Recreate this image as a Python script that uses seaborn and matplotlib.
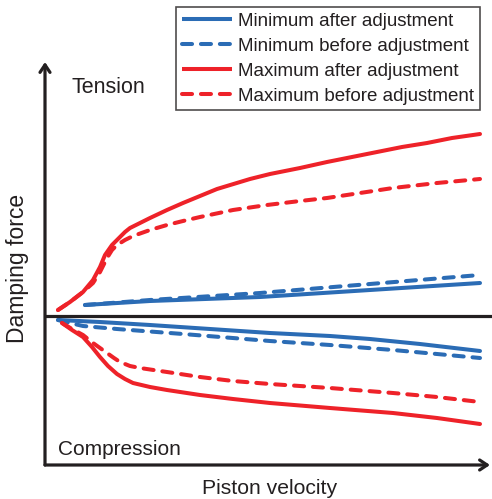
import numpy as np
import pandas as pd
import matplotlib
matplotlib.use("Agg")
import matplotlib.pyplot as plt
from matplotlib.legend_handler import HandlerLine2D
import seaborn as sns

sns.set_theme(style="white")
plt.rcParams['font.family'] = ['Liberation Sans', 'DejaVu Sans']

# ---- data (arbitrary units) ----
series_names = ["Minimum after adjustment", "Minimum before adjustment",
                "Maximum after adjustment", "Maximum before adjustment"]

# tension side
max_after_t_v = [11, 23, 36, 46, 53, 58, 65, 73, 78, 83, 93, 103, 120, 136, 170, 203, 223, 253, 280, 305, 330, 355, 380, 405, 433]
max_after_t_f = [6, 14, 24, 36, 49, 61, 71, 79, 84, 88, 93, 98, 106, 113, 127, 137, 142, 148, 154, 159, 164, 169, 173, 178, 182]
max_before_t_v = [11, 23, 36, 46, 53, 60, 65, 70, 78, 86, 103, 120, 136, 153, 186, 220, 253, 280, 313, 346, 390, 433]
max_before_t_f = [6, 14, 24, 33, 44, 58, 66, 71, 76, 80, 86, 91, 95, 99, 106, 111, 115, 118, 123, 128, 133, 137]
min_after_t_v = [38, 103, 213, 323, 433]
min_after_t_f = [11, 15, 19, 26, 33]
min_before_t_v = [38, 103, 213, 323, 433]
min_before_t_f = [11, 16, 23, 32, 41]

# compression side
min_after_c_v = [11, 53, 103, 163, 223, 283, 323, 373, 433]
min_after_c_f = [-4, -6, -9, -13, -17, -20, -23, -28, -35]
min_before_c_v = [11, 23, 36, 70, 136, 223, 283, 346, 390, 433]
min_before_c_f = [-4, -7, -10, -13, -18, -25, -29, -34, -38, -42]
max_after_c_v = [15, 25, 36, 45, 53, 61, 70, 78, 86, 103, 120, 153, 186, 223, 283, 346, 390, 433]
max_after_c_f = [-7, -14, -21, -31, -41, -50, -58, -63, -67, -71, -74, -79, -83, -87, -92, -97, -102, -108]
max_before_c_v = [15, 25, 36, 46, 53, 60, 67, 73, 83, 93, 120, 153, 186, 223, 283, 346, 390, 433]
max_before_c_f = [-7, -13, -19, -27, -32, -37, -42, -46, -50, -52, -56, -61, -65, -68, -72, -77, -81, -86]

BLUE = "#2b6cb5"
RED = "#ee2229"
INK = "#231f20"

W, H = 492, 499
fig = plt.figure(figsize=(W / 100, H / 100), dpi=100)
# axes region in pixels: x 45..490, y 62..465
ax = fig.add_axes([45 / W, 1 - 465 / H, (490 - 45) / W, (465 - 62) / H])
ax.set_xlim(-2, 443)
ax.set_ylim(-149, 254)
for s in ax.spines.values():
    s.set_visible(False)
ax.set_xticks([])
ax.set_yticks([])
ax.patch.set_alpha(0)

lw = 2.9
dash = (0, (2.5, 2.2))
specs = [
    (min_after_t_v, min_after_t_f, min_after_c_v, min_after_c_f, BLUE, '-'),
    (min_before_t_v, min_before_t_f, min_before_c_v, min_before_c_f, BLUE, dash),
    (max_after_t_v, max_after_t_f, max_after_c_v, max_after_c_f, RED, '-'),
    (max_before_t_v, max_before_t_f, max_before_c_v, max_before_c_f, RED, dash),
]
handles = []
for name, (tv, tf, cv, cf, col, ls) in zip(series_names, specs):
    for xv, yv in ((tv, tf), (cv, cf)):
        sns.lineplot(x=xv, y=yv, ax=ax, color=col, linestyle=ls, linewidth=lw,
                     errorbar=None, dash_capstyle='round', solid_capstyle='round',
                     solid_joinstyle='round', sort=False)
    handles.append(plt.Line2D([], [], color=col, linestyle=ls, linewidth=lw,
                              dash_capstyle='round', solid_capstyle='butt', label=name))

# zero line
ax.plot([0, 1.005], [0, 0], transform=ax.get_yaxis_transform(), color=INK,
        linewidth=2.3, clip_on=False, solid_capstyle='butt')

# axes arrows
arrow_kw = dict(arrowstyle='->,head_length=0.45,head_width=0.3', color=INK,
                linewidth=2.3, shrinkA=0, shrinkB=0)
ax.annotate('', xy=(0, 1), xytext=(0, 0), xycoords='axes fraction',
            textcoords='axes fraction', arrowprops=arrow_kw)
ax.annotate('', xy=(1, 0), xytext=(0, 0), xycoords='axes fraction',
            textcoords='axes fraction', arrowprops=arrow_kw)

# texts
fig.text(72 / W, 1 - 93 / H, "Tension", fontsize=15.5, color=INK, va='baseline', ha='left')
fig.text(58 / W, 1 - 455 / H, "Compression", fontsize=15, color=INK, va='baseline', ha='left')
fig.text(18 / W, 1 - 268 / H, "Damping force", fontsize=16.5, color=INK, rotation=90,
         va='center', ha='center')
fig.text(270 / W, 1 - 494 / H, "Piston velocity", fontsize=15.2, color=INK,
         va='baseline', ha='center')


class PadHandler(HandlerLine2D):
    def create_artists(self, legend, orig_handle, xdescent, ydescent, width,
                       height, fontsize, trans):
        arts = super().create_artists(legend, orig_handle, xdescent, ydescent,
                                      width, height, fontsize, trans)
        pad = 0.55 * fontsize
        for a in arts:
            xd = list(a.get_xdata())
            if len(xd) == 2:
                a.set_xdata([xd[0] + pad, xd[1]])
        return arts


leg = fig.legend(handles=handles, loc='upper right',
                 bbox_to_anchor=(480 / W, 1 - 7 / H), bbox_transform=fig.transFigure,
                 fontsize=13.5, frameon=True, fancybox=False, borderaxespad=0,
                 borderpad=0.3, handlelength=2.68, handletextpad=0.35, labelspacing=0.42,
                 handler_map={plt.Line2D: PadHandler()})
leg.get_frame().set_edgecolor(INK)
leg.get_frame().set_linewidth(1.2)
for t in leg.get_texts():
    t.set_color(INK)

fig.savefig("out.png", dpi=100)
